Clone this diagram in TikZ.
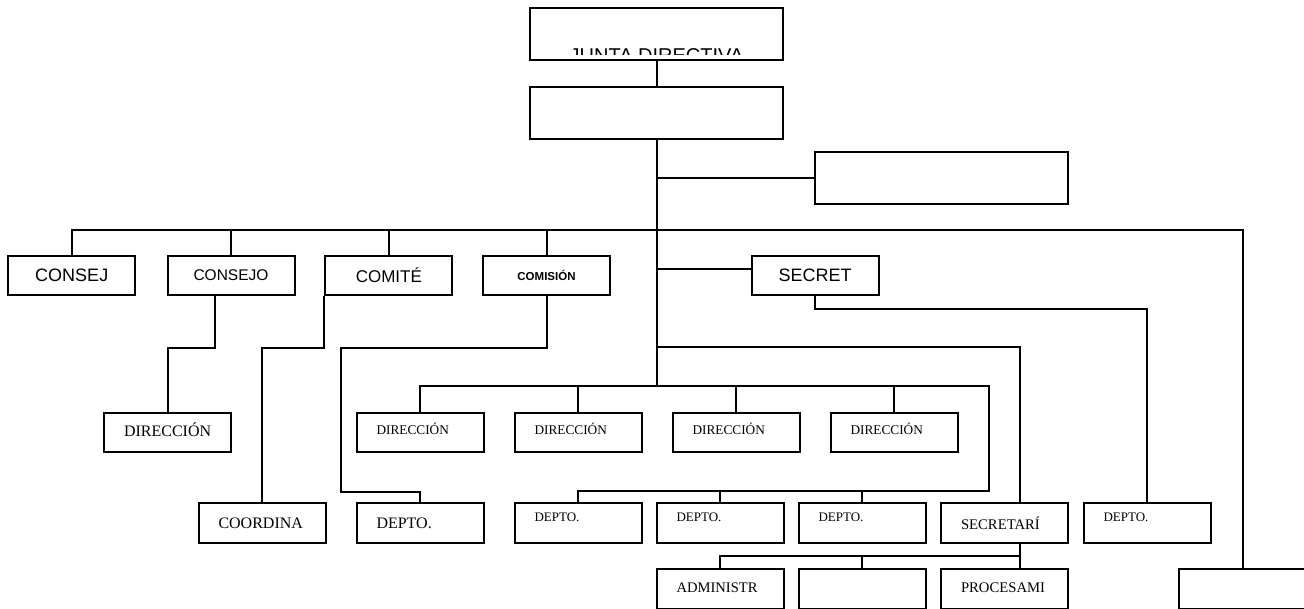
\documentclass[tikz,border=0pt]{standalone}
\usepackage{fontspec}
\setmainfont{Liberation Serif}
\newfontfamily\arialf{Liberation Sans}
\newcommand{\fsz}[1]{\fontsize{#1}{#1}\selectfont}

\begin{document}
\begin{tikzpicture}[x=1pt,y=-1pt,line width=2pt]
    \tikzstyle{wbox}=[draw,minimum width=253pt,minimum height=52pt,inner sep=0pt]
    \tikzstyle{sbox}=[draw,minimum width=127pt,minimum height=39pt,inner sep=0pt]
    \tikzstyle{tbox}=[draw,minimum height=40pt,text width=87pt,inner xsep=20pt,inner ysep=0pt,align=left]
    \useasboundingbox (0,0) rectangle (1304,608);

    % top of the chart
    \node[wbox] (junta) at (656.5,34) {};
    \node[wbox] (presid) at (656.5,112.5) {};
    \node[wbox] (asesor) at (941.5,177.5) {};
    \begin{scope}
      \clip (junta.north west) rectangle (783,54.5);
      \node[anchor=north,inner sep=0pt,font=\arialf\fsz{20}] (juntat) at (656.5,48) {JUNTA DIRECTIVA};
    \end{scope}

    % first row
    \node[sbox,font=\arialf\fsz{18}] (consej) at (71.75,275.5) {CONSEJ};
    \node[sbox,font=\arialf\fsz{15.5}] (consejo) at (231,275.5) {CONSEJO};
    \node[sbox,font=\arialf\fsz{17}] (comite) at (388.8,275.5) {COMITÉ};
    \node[sbox,font=\arialf\bfseries\fsz{11.5}] (comision) at (546.5,275.5) {COMISIÓN};
    \node[sbox,font=\arialf\fsz{18}] (secret) at (815,275.5) {SECRET};

    % direcciones
    \node[tbox,minimum height=39pt,font=\fsz{16},text depth=4pt] (dirA) at (167.5,432) {DIRECCIÓN};
    \node[tbox,minimum height=39pt,font=\fsz{13.3},text depth=6pt] (dir1) at (420,432) {DIRECCIÓN};
    \node[tbox,minimum height=39pt,font=\fsz{13.3},text depth=6pt] (dir2) at (578,432) {DIRECCIÓN};
    \node[tbox,minimum height=39pt,font=\fsz{13.3},text depth=6pt] (dir3) at (736,432) {DIRECCIÓN};
    \node[tbox,minimum height=39pt,font=\fsz{13.3},text depth=6pt] (dir4) at (894,432) {DIRECCIÓN};

    % departamentos
    \node[tbox,font=\fsz{16}] (coord) at (262,523.3) {COORDINA};
    \node[tbox,font=\fsz{16}] (depto0) at (420,523.3) {DEPTO.};
    \node[tbox,font=\fsz{13},text depth=13pt] (depto1) at (578,523.3) {DEPTO.};
    \node[tbox,font=\fsz{13},text depth=13pt] (depto2) at (720,523.3) {DEPTO.};
    \node[tbox,font=\fsz{13},text depth=13pt] (depto3) at (862,523.3) {DEPTO.};
    \node[tbox,font=\fsz{14.7}] (secria) at (1004.5,523.3) {SECRETARÍ};
    \node[tbox,font=\fsz{13},text depth=13pt] (deptoS) at (1147,523.3) {DEPTO.};

    % last row
    \node[tbox,font=\fsz{14.6},text depth=3pt] (admin) at (720,589) {ADMINISTR};
    \node[tbox] (blank) at (862,589) {};
    \node[tbox,font=\fsz{14.7},text depth=3pt] (proces) at (1004.5,589) {PROCESAMI};
    \node[tbox] (ultimo) at (1242.5,589) {};

    \coordinate (bus1) at (656.5,230);
    \coordinate (bus2) at (656.5,347);
    \coordinate (bus3) at (656.5,386);
    \coordinate (bus4) at (988.7,490.7);
    \coordinate (bus5) at (1020,556);
    \coordinate (sec1) at (656.5,269.3);

    % connectors
    \draw (junta) -- (presid);
    \draw (presid.south) -- (bus3);
    \draw (presid.south |- asesor.west) -- (asesor.west);
    \draw (consej.north) |- (bus1) -| (ultimo.north);
    \foreach \n in {consejo,comite,comision}
      \draw (\n.north) -- (\n.north |- bus1);
    \draw (sec1) -- (sec1 -| secret.west);
    \draw (secret.south) -- ++(0,13) -| (deptoS.north);
    \draw (bus2) -| ([xshift=15.5pt]secria.north);
    \draw ([xshift=-16.3pt]consejo.south) -- ++(0,52) -| (dirA.north);
    \draw (comite.south west) -- ++(0,52) -| (coord.north);
    \draw (comision.south) -- ++(0,52) -| ++(-205.5,143.7) -| (depto0.north);
    \draw (dir1.north) |- (bus3) -| (bus4) -| (depto1.north);
    \foreach \n in {dir2,dir3,dir4}
      \draw (\n.north) -- (\n.north |- bus3);
    \foreach \n in {depto2,depto3}
      \draw (\n.north) -- (\n.north |- bus4);
    \draw ([xshift=15.5pt]secria.south) -- ([xshift=15.5pt]proces.north);
    \draw (bus5) -| (admin.north);
    \draw (blank.north) -- (blank.north |- bus5);
\end{tikzpicture}
\end{document}
